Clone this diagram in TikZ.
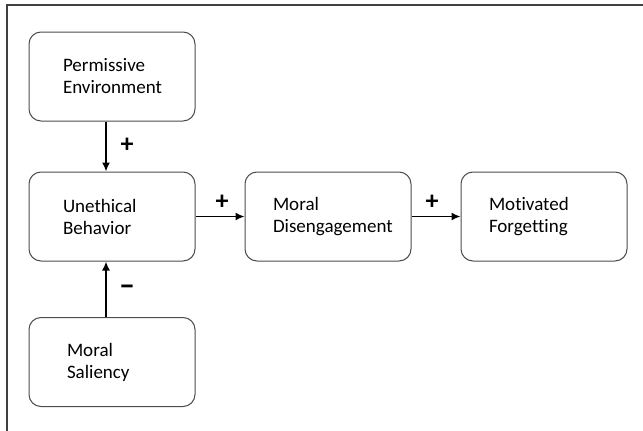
\documentclass[tikz,border=0pt]{standalone}
\usepackage{fontspec}
\setmainfont{Carlito}[Ligatures = NoCommon]
\usetikzlibrary{arrows.meta}

\tikzset{
  box/.style = {draw = black!70, line width = 1pt, rounded corners = 12pt,
    minimum width = 166pt, minimum height = 89pt, align = left,
    font = \fontsize{19}{22}\selectfont},
  link/.style = {-{Latex[length = 9pt, width = 8pt]}, line width = 1.6pt},
  sign/.style = {font = \fontsize{26}{26}\selectfont\bfseries},
}

\begin{document}
\begin{tikzpicture}[x = 1pt, y = -1pt]
        \useasboundingbox (0, 0) rectangle (643, 431);
        % open frame: only the top and the left side
        \draw[black!75, line width = 1.5pt] (643, 5) -- (7, 5) -- (7, 431);

        \node[box, inner xsep = 34pt, text width = 98pt] (env) at (112, 76.5) {Permissive\\Environment};
        \node[box, inner xsep = 34pt, text width = 98pt] (uneth) at (112, 216.5) {Unethical\\Behavior};
        \node[box, inner xsep = 38pt, text width = 90pt] (sal) at (112, 362) {Moral\\Saliency};
        \node[box, inner xsep = 28pt, text width = 110pt] (dis) at (328, 216.5) {Moral\\Disengagement};
        \node[box, inner xsep = 28pt, text width = 110pt] (forg) at (544, 216.5) {Motivated\\Forgetting};

        \draw[link] ([xshift = -6pt]env.south) -- ([xshift = -6pt]uneth.north);
        \draw[link] ([xshift = -6pt]sal.north) -- ([xshift = -6pt]uneth.south);
        \draw[link] (uneth) -- (dis);
        \draw[link] (dis) -- (forg);

        \node[sign] (s1) at (127, 145) {+};
        \node[sign, font = \fontsize{32}{32}\selectfont\bfseries] (s2) at (127, 290) {--};
        \node[sign] (s3) at (222, 202) {+};
        \node[sign] (s4) at (432, 202) {+};
    \end{tikzpicture}
\end{document}
